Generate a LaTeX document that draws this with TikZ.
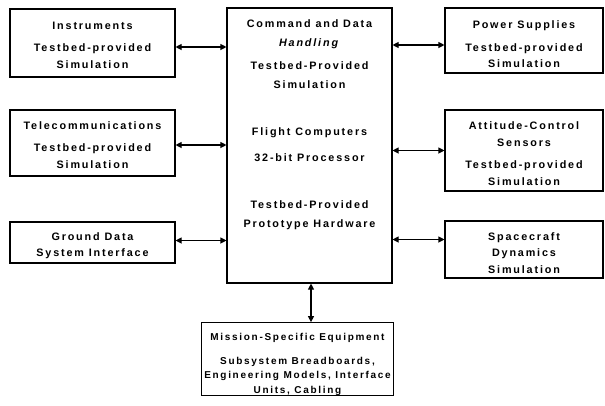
\documentclass[tikz,border=0pt]{standalone}
\usepackage{fontspec}
\setmainfont{Liberation Sans}[LetterSpace=17]
\usetikzlibrary{arrows.meta}
\newcommand\lowr[1]{\rule{0pt}{#1}}
\tikzset{
  box/.style={draw, line width=1.1pt, rectangle, inner sep=0pt, align=center,
    font=\fontsize{10.8}{16.5}\selectfont\bfseries},
  txt/.style={inner sep=0pt, align=center, font=\fontsize{10.8}{18.5}\selectfont\bfseries},
  link/.style={line width=1.1pt, {Triangle[length=6pt,width=6pt]}-{Triangle[length=6pt,width=6pt]}}
}
\begin{document}
\begin{tikzpicture}[x=1pt,y=-1pt]
\useasboundingbox (0,0) rectangle (605,405);
% left column
\node[box, minimum width=165pt, minimum height=68pt] (ins) at (92.5,43)
  {\lowr{12pt}Instruments\\[6pt]Testbed-provided\\Simulation};
\node[box, minimum width=165pt, minimum height=66pt] (tel) at (92.5,143)
  {\lowr{12pt}Telecommunications\\[6pt]Testbed-provided\\Simulation};
\node[box, minimum width=165pt, minimum height=41pt] (gds) at (92.5,242.5)
  {\lowr{14.5pt}Ground Data\\System Interface};
% centre
\node[box, minimum width=165pt, minimum height=275pt] (cdh) at (309.5,145.5) {};
\node[txt, anchor=north] (cdhtxt) at ([yshift=-12.5pt]cdh.north)
  {Command and Data\\\textit{Handling}\\[5pt]Testbed-Provided\\Simulation\\[29pt]%
   Flight Computers\\[7pt]32-bit Processor\\[29pt]Testbed-Provided\\Prototype Hardware};
% right column
\node[box, minimum width=158pt, minimum height=65pt] (pwr) at (524,40.5)
  {\lowr{16pt}Power Supplies\\[6pt]Testbed-provided\\Simulation};
\node[box, minimum width=158pt, minimum height=81pt] (att) at (524,150.5)
  {\lowr{14pt}Attitude-Control\\Sensors\\[6pt]Testbed-provided\\Simulation};
\node[box, minimum width=158pt, minimum height=57pt] (scd) at (524,249.5)
  {\lowr{15pt}Spacecraft\\Dynamics\\Simulation};
% bottom
\node[box, minimum width=192pt, minimum height=72pt,
  font=\fontsize{10}{14.5}\selectfont\bfseries] (mse) at (297.5,359)
  {\lowr{18pt}Mission-Specific Equipment\\[9pt]Subsystem Breadboards,\\Engineering Models, Interface\\Units, Cabling};
% connectors
\draw[link] ([yshift=-4pt]ins.east) -- ([yshift=-4pt]ins.east -| cdh.west);
\draw[link] ([yshift=-2pt]tel.east) -- ([yshift=-2pt]tel.east -| cdh.west);
\draw[link] ([yshift=2pt]gds.east) -- ([yshift=2pt]gds.east -| cdh.west);
\draw[link] ([yshift=-4.5pt]pwr.west) -- ([yshift=-4.5pt]pwr.west -| cdh.east);
\draw[link] (att.west) -- (att.west -| cdh.east);
\draw[link] ([yshift=10pt]scd.west) -- ([yshift=10pt]scd.west -| cdh.east);
\draw[link] ([xshift=1.5pt]cdh.south) -- ([xshift=1.5pt]cdh.south |- mse.north);
\end{tikzpicture}
\end{document}
